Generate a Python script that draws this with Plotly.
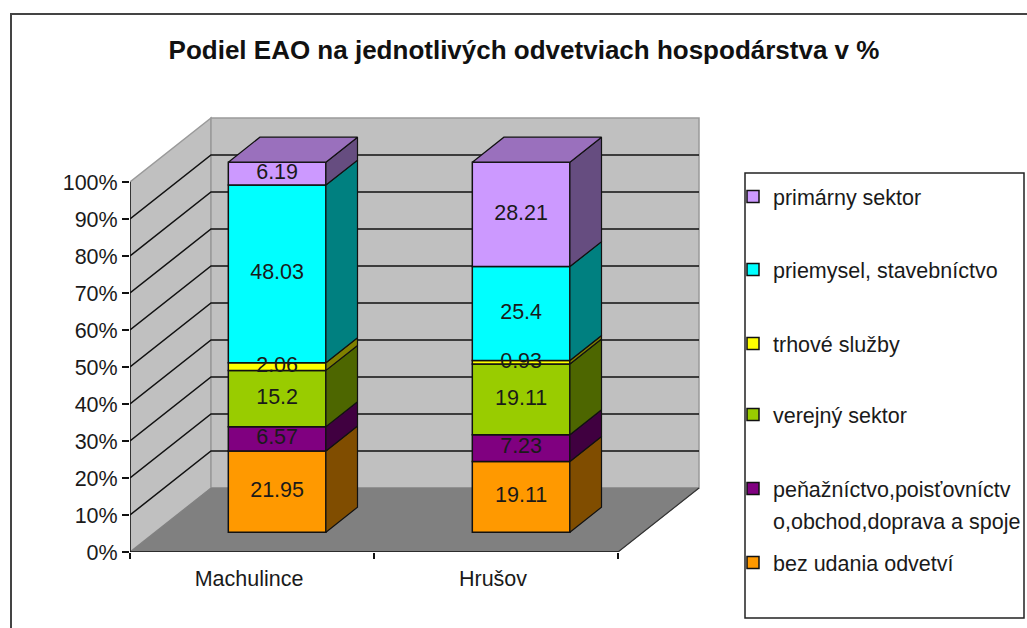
import plotly.graph_objects as go

# ---------- data ----------
categories = ["Machulince", "Hrušov"]
series_names = ["bez udania odvetví", "peňažníctvo,poisťovníctv",
                "verejný sektor", "trhové služby", "priemysel, stavebníctvo", "primárny sektor"]
name_continuation = "o,obchod,doprava a spoje"
bez_udania = [21.95, 19.11]
penaznictvo = [6.57, 7.23]
verejny = [15.2, 19.11]
trhove = [2.06, 0.93]
priemysel = [48.03, 25.4]
primarny = [6.19, 28.21]
series_values = [bez_udania, penaznictvo, verejny, trhove, priemysel, primarny]
face_colors = ["#FF9900", "#800080", "#99CC00", "#FFFF00", "#00FFFF", "#CC99FF"]
side_colors = ["#804D00", "#400040", "#4D6600", "#808000", "#008080", "#664D80"]
top_color = "#9A70BD"
y_ticks = list(range(0, 101, 10))
y_tick_labels = [f"{t}%" for t in y_ticks]
title_text = "Podiel EAO na jednotlivých odvetviach hospodárstva v %"

# ---------- layout geometry ----------
W, H = 1027, 628
L, B = 130, 76
SLOT_PX, PCT_PX = 244.0, 3.7
DX, DY = 81 / SLOT_PX, 64 / PCT_PX     # oblique depth vector in data units
D0, D1 = 0.31, 0.70                    # bar depth interval
BW = 0.4
FONT = "Liberation Sans, Arial, sans-serif"
FS = 21.5
INK = "#1a1a1a"

x_max = (W - L) / SLOT_PX
y_max = (H - B) / PCT_PX


def proj(x, y, d=0.0):
    return x + d * DX, y + d * DY


def path(points):
    return "M" + " L".join(f"{a:.4f},{b:.4f}" for a, b in points) + " Z"


def px_x(p):
    return (p - L) / (W - L)


def px_y(p):
    return (H - B - p) / (H - B)


fig = go.Figure()
shapes = []

# walls and floor
n = len(categories)
shapes.append(dict(type="path", layer="below", xref="x", yref="y", fillcolor="#C0C0C0",
                   line=dict(color="#9a9a9a", width=1.5),
                   path=path([proj(0, 0), proj(0, 100), proj(0, 100, 1), proj(0, 0, 1)])))
shapes.append(dict(type="path", layer="below", xref="x", yref="y", fillcolor="#C0C0C0",
                   line=dict(color="#9a9a9a", width=1.5),
                   path=path([proj(0, 0, 1), proj(0, 100, 1), proj(n, 100, 1), proj(n, 0, 1)])))
shapes.append(dict(type="path", layer="below", xref="x", yref="y", fillcolor="#808080",
                   line=dict(color="#808080", width=1),
                   path=path([proj(0, 0), proj(n, 0), proj(n, 0, 1), proj(0, 0, 1)])))
# gridlines
for t in y_ticks[1:-1]:
    a, b, c = proj(0, t), proj(0, t, 1), proj(n, t, 1)
    shapes.append(dict(type="path", layer="below", xref="x", yref="y",
                       line=dict(color="#111111", width=1.5),
                       path=f"M{a[0]:.4f},{a[1]:.4f} L{b[0]:.4f},{b[1]:.4f} L{c[0]:.4f},{c[1]:.4f}"))
# floor right edge, axis lines
a, b = proj(n, 0), proj(n, 0, 1)
shapes.append(dict(type="line", layer="below", xref="x", yref="y", x0=a[0], y0=a[1], x1=b[0], y1=b[1],
                   line=dict(color="#333333", width=1.2)))
shapes.append(dict(type="line", layer="above", xref="x", yref="y", x0=0, y0=0, x1=0, y1=100,
                   line=dict(color="#111111", width=1.5)))
shapes.append(dict(type="line", layer="above", xref="x", yref="y", x0=0, y0=0, x1=n, y1=0,
                   line=dict(color="#111111", width=1.5)))

# chart outer frame (top and left only, the rest is cropped) and legend box
shapes.append(dict(type="line", xref="paper", yref="paper", x0=px_x(10), x1=px_x(1027), y0=px_y(14), y1=px_y(14),
                   line=dict(color="#444444", width=2)))
shapes.append(dict(type="line", xref="paper", yref="paper", x0=px_x(11), x1=px_x(11), y0=px_y(14), y1=px_y(628),
                   line=dict(color="#444444", width=2)))
shapes.append(dict(type="rect", xref="paper", yref="paper", x0=px_x(745), x1=px_x(1024), y0=px_y(173), y1=px_y(618),
                   line=dict(color="#222222", width=1.5)))

slots = [i + 0.5 for i in range(n)]
legend_centres = {5: 197, 4: 270, 3: 344, 2: 415, 1: 489, 0: 563}
legend_layouts = {}
base = [0.0] * n
label_x, label_y, label_t = [], [], []

for s, vals in enumerate(series_values):
    lname = "legend" if s == 0 else f"legend{s + 1}"
    # front faces: real bars shifted by the depth of the bar row
    fig.add_trace(go.Bar(
        x=[proj(c, 0, D0)[0] for c in slots],
        y=vals,
        base=[proj(0, b, D0)[1] for b in base],
        width=BW,
        name=series_names[s],
        legend=lname,
        marker=dict(color=face_colors[s], line=dict(color="#111111", width=1.5)),
        hoverinfo="skip",
    ))
    for i, c in enumerate(slots):
        xr = c + BW / 2
        lo, hi = base[i], base[i] + vals[i]
        poly = [proj(xr, lo, D0), proj(xr, hi, D0), proj(xr, hi, D1), proj(xr, lo, D1), proj(xr, lo, D0)]
        fig.add_trace(go.Scatter(
            x=[p[0] for p in poly], y=[p[1] for p in poly], mode="lines", fill="toself",
            fillcolor=side_colors[s], line=dict(color="#111111", width=1.2),
            showlegend=False, hoverinfo="skip"))
        cx, cy = proj(c, (lo + hi) / 2, D0)
        label_x.append(cx)
        label_y.append(cy)
        label_t.append(str(vals[i]))
    base = [b + v for b, v in zip(base, vals)]
    yc = legend_centres[s]
    legend_layouts[lname] = dict(
        xref="container", yref="container", x=733 / W, y=1 - (yc - 21) / H,
        xanchor="left", yanchor="top", bgcolor="rgba(0,0,0,0)", borderwidth=0,
        font=dict(family=FONT, size=FS, color=INK), itemclick=False, itemdoubleclick=False)

# bar tops
for i, c in enumerate(slots):
    xl, xr = c - BW / 2, c + BW / 2
    top = 100.0
    poly = [proj(xl, top, D0), proj(xr, top, D0), proj(xr, top, D1), proj(xl, top, D1), proj(xl, top, D0)]
    fig.add_trace(go.Scatter(
        x=[p[0] for p in poly], y=[p[1] for p in poly], mode="lines", fill="toself",
        fillcolor=top_color, line=dict(color="#111111", width=1.2),
        showlegend=False, hoverinfo="skip"))

# value labels on top of everything
fig.add_trace(go.Scatter(
    x=label_x, y=label_y, text=label_t, mode="text", textposition="middle center",
    textfont=dict(family=FONT, size=FS, color=INK), showlegend=False, hoverinfo="skip"))

fig.add_annotation(text=name_continuation, xref="paper", yref="paper", x=px_x(771), y=px_y(522),
                   xanchor="left", yanchor="middle", showarrow=False,
                   font=dict(family=FONT, size=FS, color=INK))

fig.update_layout(
    width=W, height=H, autosize=False,
    margin=dict(l=L, r=0, t=0, b=B, pad=0, autoexpand=False),
    paper_bgcolor="white", plot_bgcolor="white",
    barmode="overlay",
    font=dict(family=FONT, size=FS, color=INK),
    title=dict(text=f"<b>{title_text}</b>", x=524 / W, xanchor="center", y=1 - 50 / H,
               yanchor="middle", xref="container", yref="container",
               font=dict(family=FONT, size=26, color="#111111")),
    xaxis=dict(range=[0, x_max], tickvals=[c - 3 / SLOT_PX for c in slots], ticktext=categories,
               showgrid=False, zeroline=False,
               showline=False, ticks="outside", ticklen=7, tickcolor="rgba(0,0,0,0)", automargin=False,
               minor=dict(tickvals=list(range(n + 1)), ticks="outside", ticklen=6, tickwidth=1.5,
                          tickcolor="#111111", showgrid=False),
               tickfont=dict(family=FONT, size=FS, color=INK), fixedrange=True),
    yaxis=dict(range=[0, y_max], tickvals=y_ticks, ticktext=y_tick_labels, showgrid=False, zeroline=False,
               showline=False, ticks="outside", ticklen=7, tickwidth=1.5, tickcolor="#111111", automargin=False,
               tickfont=dict(family=FONT, size=FS, color=INK), fixedrange=True),
    shapes=shapes,
    **legend_layouts,
)

fig.write_html("out.html", config={"displayModeBar": False},
               post_script="document.documentElement.style.overflow='hidden';document.body.style.margin='0';")
